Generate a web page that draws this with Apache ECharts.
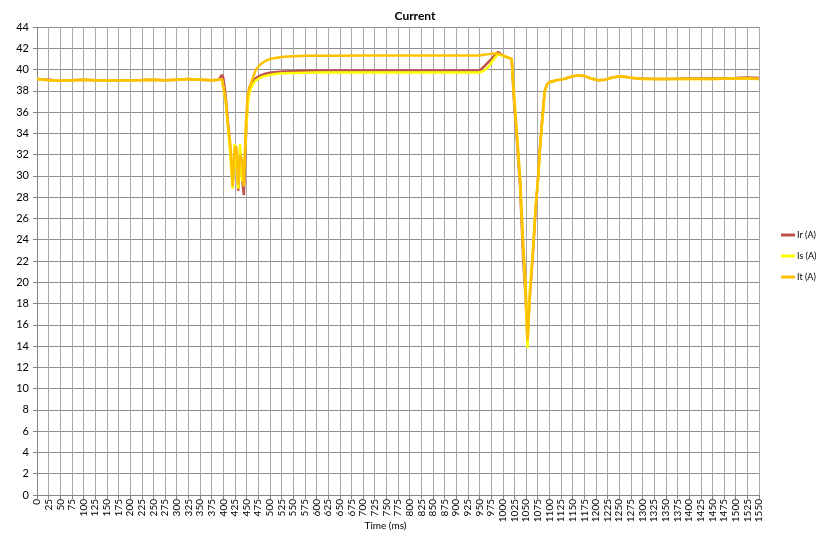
<!DOCTYPE html>
<html>
<head>
<meta charset="utf-8">
<script src="https://cdn.jsdelivr.net/npm/echarts@6/dist/echarts.min.js"></script>
<style>
html,body{margin:0;padding:0;background:#fff;}
#chart{width:830px;height:535px;}
</style>
</head>
<body>
<div id="chart"></div>
<script>
var titleText = 'Current';
var xAxisName = 'Time (ms)';
var seriesNames = ['Ir (A)', 'Is (A)', 'It (A)'];

var times = [
  0,25,50,75,100,125,150,175,200,225,250,275,300,325,350,375,390,
  397,400,405,410,415,420,424,428,432,436,440,444,448,452,456,460,465,470,
  480,490,500,515,530,550,575,600,650,700,750,800,850,900,950,
  960,970,980,990,1000,1010,1019,1024,1030,1037,1044,1049,1053,1058,1065,1070,1076,1080,1085,1090,1095,
  1100,1115,1130,1145,1160,1175,1190,1205,1220,1235,1250,1265,1280,1300,1325,1350,1400,1450,1500,1525,1550
];

var irValues = [
  39.1,39.05,38.95,39.0,39.05,39.0,38.98,39.0,39.0,39.02,39.05,39.0,39.05,39.1,39.05,39.0,39.05,
  39.5,39.2,37.5,35.0,32.5,29.5,31.5,32.2,28.6,32.5,30.0,28.2,33.0,37.0,38.3,38.7,39.0,39.2,
  39.45,39.6,39.7,39.78,39.82,39.85,39.88,39.9,39.9,39.9,39.9,39.9,39.9,39.9,39.9,
  40.3,40.75,41.2,41.65,41.3,41.15,41.0,37.0,33.5,29.0,22.0,18.5,14.5,18.8,23.0,26.5,30.0,32.8,35.5,38.0,38.6,
  38.8,39.0,39.1,39.3,39.45,39.4,39.15,39.0,39.05,39.25,39.35,39.3,39.2,39.15,39.12,39.12,39.15,39.15,39.2,39.25,39.2
];

var isValues = [
  39.1,39.0,38.95,39.0,39.05,39.0,38.98,39.0,39.0,39.02,39.05,39.0,39.05,39.1,39.05,39.0,39.05,
  39.1,39.0,37.0,34.5,32.0,28.8,33.0,31.0,28.8,33.0,29.5,30.0,33.5,36.5,37.8,38.3,38.7,39.0,
  39.25,39.4,39.5,39.6,39.65,39.68,39.7,39.72,39.72,39.72,39.72,39.72,39.72,39.72,39.72,
  39.9,40.3,40.95,41.45,41.3,41.15,41.0,37.5,34.0,29.5,23.0,19.0,13.8,19.3,23.3,26.8,29.8,32.6,35.3,37.9,38.6,
  38.8,39.0,39.1,39.3,39.45,39.4,39.15,39.0,39.05,39.25,39.35,39.3,39.2,39.12,39.1,39.1,39.12,39.1,39.15,39.15,39.1
];

var itValues = [
  39.1,39.0,38.95,39.0,39.05,39.0,38.98,39.0,39.0,39.02,39.05,39.0,39.05,39.1,39.05,39.0,39.05,
  39.1,39.0,37.2,34.8,33.0,29.0,32.5,32.8,29.2,32.0,31.5,29.0,34.5,37.5,38.3,38.8,39.4,40.0,
  40.5,40.8,41.0,41.1,41.2,41.25,41.3,41.3,41.3,41.32,41.32,41.32,41.32,41.32,41.32,
  41.4,41.45,41.5,41.5,41.35,41.15,41.0,37.8,34.2,30.0,23.5,20.0,14.5,18.5,23.0,26.8,30.0,32.8,35.5,38.0,38.6,
  38.8,39.0,39.1,39.3,39.45,39.4,39.15,39.0,39.05,39.25,39.35,39.3,39.2,39.12,39.1,39.1,39.12,39.1,39.15,39.15,39.1
];

var seriesColors = ['#C0504D', '#FFFF00', '#FFC000'];

function pairs(vals) {
  return times.map(function (t, i) { return [t, vals[i]]; });
}

var allValues = [irValues, isValues, itValues];
var fontFam = 'Lato, "Liberation Sans", sans-serif';

var chart = echarts.init(document.getElementById('chart'), null, {renderer: 'canvas'});
chart.setOption({
  animation: false,
  backgroundColor: '#ffffff',
  title: {
    text: titleText,
    left: 'center',
    top: 5,
    textStyle: {fontSize: 12, fontWeight: 'bold', color: '#000', fontFamily: fontFam}
  },
  legend: {
    orient: 'vertical',
    left: 776,
    top: 224,
    itemWidth: 14,
    itemHeight: 3,
    itemGap: 9,
    icon: 'rect',
    textStyle: {fontSize: 9, lineHeight: 12, color: '#000', fontFamily: fontFam, padding: [0,0,0,-3]},
    data: seriesNames
  },
  grid: {left: 37, right: 71, top: 27, bottom: 40, containLabel: false, outerBoundsMode: 'none'},
  xAxis: {
    type: 'value',
    min: 0,
    max: 1550,
    interval: 25,
    name: xAxisName,
    nameLocation: 'middle',
    nameGap: 26,
    nameMoveOverlap: false,
    nameTextStyle: {fontSize: 10, color: '#000', fontFamily: fontFam, padding: [0, 25, 0, 0]},
    axisLine: {show: true, lineStyle: {color: '#868686', width: 1}},
    axisTick: {show: true, inside: false, length: 4, lineStyle: {color: '#868686'}},
    axisLabel: {
      rotate: 90, fontSize: 10, color: '#000', fontFamily: fontFam, margin: 4,
      formatter: function (v) { return String(v); }
    },
    splitLine: {show: true, lineStyle: {color: '#a8a8a8', width: 1}}
  },
  yAxis: {
    type: 'value',
    min: 0,
    max: 44,
    interval: 2,
    axisLine: {show: true, lineStyle: {color: '#868686', width: 1}},
    axisTick: {show: true, inside: false, length: 4, lineStyle: {color: '#868686'}},
    axisLabel: {fontSize: 11, color: '#000', fontFamily: fontFam, margin: 8},
    splitLine: {show: true, lineStyle: {color: '#8c8c8c', width: 1}}
  },
  series: seriesNames.map(function (n, i) {
    return {
      name: n,
      type: 'line',
      data: pairs(allValues[i]),
      showSymbol: false,
      symbol: 'none',
      color: seriesColors[i],
      lineStyle: {width: 2.5, color: seriesColors[i]},
      z: 2 + i
    };
  })
});
</script>
</body>
</html>
